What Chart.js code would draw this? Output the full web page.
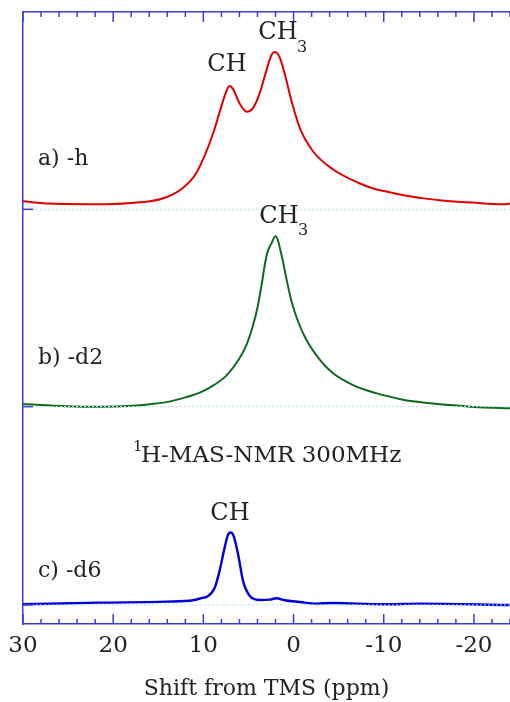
<!DOCTYPE html>
<html>
<head>
<meta charset="utf-8">
<script src="https://cdn.jsdelivr.net/npm/chart.js@4/dist/chart.umd.min.js"></script>
<style>
  body { margin: 0; background: #fff; }
  canvas { display: block; }
</style>
</head>
<body>
<canvas id="nmr" width="510" height="702"></canvas>
<script>
// chemical shift (ppm) and intensity (a.u.)
var ppmH = [30, 27, 21.5, 17.8, 15.9, 14.1, 12.3, 10.8, 9.7, 8.7, 8.0, 7.4, 7.1, 6.7, 6.0, 5.2, 4.5, 3.75, 3.0, 2.45, 2.1, 1.55, 1.0, 0.25, -0.7, -2.15, -4.35, -7.3, -8.75, -10.65, -12.5, -14, -16.2, -19.8, -23.2, -24];
var intH = [8, 5.7, 5, 6.5, 8, 12, 21, 36, 57, 82, 103, 119, 123, 120, 106, 97.5, 101, 116, 139, 154, 157, 152, 136, 109, 81, 58, 40, 26, 21, 17, 13.5, 11.5, 9, 6.7, 5, 5.7];

var ppmD2 = [30, 25.2, 21.5, 17.8, 15.9, 14.1, 11.9, 10.4, 9.3, 7.45, 6.15, 5.25, 4.5, 3.95, 3.5, 3.2, 2.9, 2.45, 2.0, 1.25, 0.8, 0.25, -0.5, -1.4, -2.9, -4.35, -6.6, -9.15, -11.75, -13.2, -16.9, -20.6, -24];
var intD2 = [2.7, 0.5, 0, 1, 2.5, 4.5, 9.5, 14, 19, 31, 46, 61, 81, 101, 124, 141, 154, 163, 170, 148, 128, 106, 85, 67, 47, 33.5, 21.5, 13.5, 7.7, 5.3, 2, -0.7, -1.7];

var ppmD6 = [30, 21.5, 14.1, 11.15, 10.0, 9.65, 8.75, 8.2, 7.65, 7.25, 6.95, 6.65, 6.15, 5.6, 4.85, 3.75, 2.65, 1.9, 1.0, -0.7, -2.5, -4.35, -9.9, -14, -24];
var intD6 = [0.7, 2.3, 3.3, 4.7, 7.3, 8, 17, 34, 57, 70.5, 72.3, 69, 50.7, 24, 9, 5, 5.3, 6.7, 4.7, 3, 1.3, 2, 0.7, 1.3, 0];

// vertical offset of each stacked spectrum
var offsets = [414, 217, 19];
var sampleNames = ["a) -h", "b) -d2", "c) -d6"];
var colors = ["#e00000", "#0f6a1e", "#0000d8"];

var xMin = -24, xMax = 30;
var axisColor = "#3c3cdc";
var serif = "'DejaVu Serif', serif";

function series(ppm, vals, off) {
    var pts = [];
    for (var i = 0; i < ppm.length; i++) pts.push({x: ppm[i], y: vals[i] + off});
    return pts;
}

var datasets = [];
// faint dotted baselines
offsets.forEach(function (off) {
    datasets.push({
        data: [{x: xMin, y: off}, {x: xMax, y: off}],
        borderColor: "#b5e4ef",
        borderWidth: 1,
        borderDash: [2, 2],
        pointRadius: 0
    });
});
[[ppmH, intH], [ppmD2, intD2], [ppmD6, intD6]].forEach(function (s, i) {
    datasets.push({
        data: series(s[0], s[1], offsets[i]),
        borderColor: colors[i],
        borderWidth: i == 2 ? 2.4 : 2,
        pointRadius: 0,
        tension: 0.4,
        cubicInterpolationMode: "monotone"
    });
});

// inward tick marks + text labels
var decor = {
    id: "decor",
    afterDraw: function (chart) {
        var ctx = chart.ctx;
        var x = chart.scales.x, y = chart.scales.y;
        var area = chart.chartArea;
        ctx.save();
        ctx.strokeStyle = axisColor;
        ctx.lineWidth = 1.5;
        x.ticks.forEach(function (t) {
            var px = x.getPixelForValue(t.value);
            var len = t.value % 10 === 0 ? 10 : 5;
            ctx.beginPath();
            ctx.moveTo(px, area.bottom); ctx.lineTo(px, area.bottom - len);
            ctx.moveTo(px, area.top); ctx.lineTo(px, area.top + len);
            ctx.stroke();
        });
        offsets.forEach(function (off) {
            var py = y.getPixelForValue(off);
            ctx.beginPath();
            ctx.moveTo(area.left, py); ctx.lineTo(area.left + 10, py);
            ctx.stroke();
        });

        ctx.fillStyle = "#222";
        ctx.textBaseline = "middle";
        ctx.textAlign = "center";
        ctx.font = "24px " + serif;
        ctx.fillText("CH", 227, 65);
        ctx.fillText("CH", 278, 33);
        ctx.fillText("CH", 279, 217);
        ctx.fillText("CH", 230, 514);
        ctx.font = "16px " + serif;
        ctx.fillText("3", 302, 48);
        ctx.fillText("3", 303, 231);

        ctx.textAlign = "left";
        ctx.font = "22px " + serif;
        ctx.fillText(sampleNames[0], 38, 159);
        ctx.fillText(sampleNames[1], 38, 358);
        ctx.fillText(sampleNames[2], 38, 571);

        ctx.font = "15px " + serif;
        ctx.fillText("1", 133, 447);
        ctx.font = "23px " + serif;
        ctx.fillText("H-MAS-NMR 300MHz", 141, 456);
        ctx.restore();
    }
};

new Chart(document.getElementById("nmr"), {
    type: "line",
    data: {datasets: datasets},
    options: {
        responsive: false,
        animation: false,
        devicePixelRatio: 1,
        layout: {padding: {left: 23, top: 12, right: 0, bottom: 0}},
        plugins: {legend: {display: false}, tooltip: {enabled: false}},
        scales: {
            x: {
                type: "linear",
                position: "bottom",
                min: xMin,
                max: xMax,
                reverse: true,
                afterFit: function (s) { s.paddingLeft = 13; s.paddingRight = 0; },
                grid: {display: false, drawTicks: false},
                border: {display: true, color: axisColor, width: 1.5},
                ticks: {
                    stepSize: 2,
                    autoSkip: false,
                    maxRotation: 0,
                    padding: 8,
                    color: "#222",
                    font: {family: serif, size: 23},
                    callback: function (v) { return v % 10 === 0 ? String(v) : ""; }
                },
                title: {
                    display: true,
                    text: "Shift from TMS (ppm)",
                    color: "#222",
                    font: {family: serif, size: 22},
                    padding: {top: 8, bottom: 0}
                }
            },
            xTop: {
                type: "linear",
                position: "top",
                min: xMin,
                max: xMax,
                reverse: true,
                afterFit: function (s) { s.paddingLeft = 0; s.paddingRight = 0; },
                grid: {display: false, drawTicks: false},
                border: {display: true, color: axisColor, width: 1.5},
                ticks: {display: false}
            },
            y: {
                min: 0,
                max: 611,
                grid: {display: false, drawTicks: false},
                border: {display: true, color: axisColor, width: 1.5},
                ticks: {display: false}
            }
        }
    },
    plugins: [decor]
});
</script>
</body>
</html>
